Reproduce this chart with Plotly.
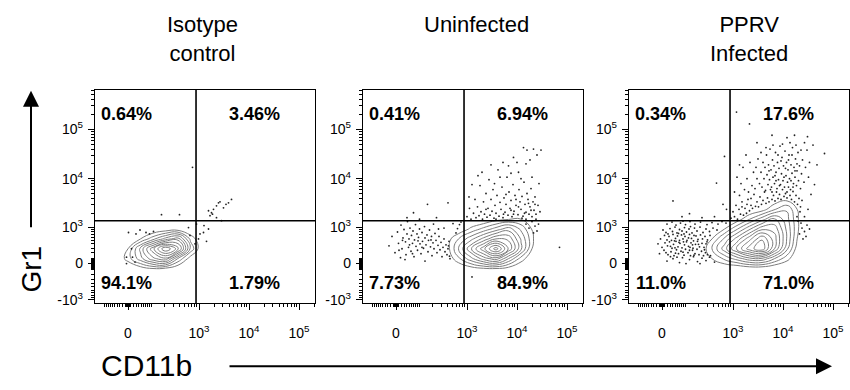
import numpy as np
import plotly.graph_objects as go

# ---------------------------------------------------------------------------
# Biexponential (arcsinh) display scale, one display unit ~ one decade
# ---------------------------------------------------------------------------
LN10 = np.log(10.0)
CD11B_SCALE = 76.0     # linear-region width for CD11b
GR1_SCALE = 382.0      # linear-region width for Gr1


def biex_cd11b(v):
    return np.arcsinh(np.asarray(v, dtype=float) / CD11B_SCALE) / LN10


def biex_gr1(v):
    return np.arcsinh(np.asarray(v, dtype=float) / GR1_SCALE) / LN10


# Sample names and quadrant statistics (UL, UR, LL, LR)
samples = ["Isotype<br>control", "Uninfected", "PPRV<br>Infected"]
quadrant_pct = [
    ["0.64%", "3.46%", "94.1%", "1.79%"],
    ["0.41%", "6.94%", "7.73%", "84.9%"],
    ["0.34%", "17.6%", "11.0%", "71.0%"],
]

# Quadrant gates (fluorescence intensity)
cd11b_gate = 870
gr1_gate = 1380

# Axis ticks (fluorescence intensity)
cd11b_major = [0, 1e3, 1e4, 1e5]
cd11b_major_text = ["0", "10<sup>3</sup>", "10<sup>4</sup>", "10<sup>5</sup>"]
gr1_major = [-1e3, 0, 1e3, 1e4, 1e5]
gr1_major_text = ["-10<sup>3</sup>", "0", "10<sup>3</sup>", "10<sup>4</sup>", "10<sup>5</sup>"]

# Display ranges (biex display units)
cd11b_range = [-0.66, 3.74]
gr1_range = [-0.80, 3.52]

# ---------------------------------------------------------------------------
# Outlier events outside the outermost contour, (CD11b, Gr1) in display units
# ---------------------------------------------------------------------------
isotype_events = [
    (0.01, 0.63), (0.16, 0.6), (0.24, 0.68), (0.36, 0.63), (0.43, 0.6), (0.07, 0.3),
    (-0.03, 0.13), (0.09, 0.13), (0.14, 0.03), (0.67, 0.99), (1.03, 0.99), (1.29, 1.95),
    (1.21, 0.73), (1.37, 0.8), (1.44, 0.6), (1.52, 0.77), (1.41, 0.5), (1.57, 0.45),
    (1.51, 0.63), (1.61, 0.7), (1.61, 1.07), (1.67, 1.03), (1.71, 1.1), (1.77, 1.17),
    (1.81, 1.23), (1.84, 1.25), (1.91, 1.13), (1.96, 1.2), (2.07, 1.3), (2.01, 1.23),
    (1.87, 0.87), (1.77, 0.93), (1.69, 1.0), (1.64, 0.97), (-0.03, 0.0), (0.51, 0.65),
    (1.24, 0.57), (1.34, 0.4),
]

uninfected_events = [
    (-0.14, 0.36), (-0.08, 0.55), (-0.02, 0.22), (0.03, 0.64), (0.05, 0.41), (0.09, 0.12),
    (0.1, 0.78), (0.12, 0.3), (0.14, 0.52), (0.16, 0.69), (0.19, 0.44), (0.2, 0.18),
    (0.22, 0.6), (0.23, 0.85), (0.25, 0.33), (0.26, 0.5), (0.28, 0.72), (0.3, 0.25),
    (0.31, 0.57), (0.33, 0.41), (0.34, 0.66), (0.36, 0.14), (0.37, 0.48), (0.39, 0.79),
    (0.4, 0.35), (0.42, 0.6), (0.43, 0.27), (0.45, 0.53), (0.47, 0.7), (0.48, 0.4),
    (0.5, 0.2), (0.52, 0.63), (0.53, 0.45), (0.55, 0.31), (0.57, 0.75), (0.58, 0.52),
    (0.6, 0.38), (0.62, 0.58), (0.64, 0.24), (0.65, 0.47), (0.67, 0.68), (0.69, 0.34),
    (0.71, 0.55), (0.72, 0.16), (0.74, 0.42), (0.76, 0.3), (0.78, 0.61), (0.8, 0.47),
    (0.82, 0.22), (0.84, 0.37), (0.86, 0.55), (0.88, 0.28), (0.9, 0.43), (0.92, 0.14),
    (0.94, 0.33), (0.96, 0.5), (0.98, 0.24), (1.0, 0.38), (1.02, 0.18), (1.04, 0.3),
    (1.06, 0.45), (1.08, 0.1), (1.05, 0.36), (1.07, 0.15), (1.2, 0.62), (1.23, 0.71),
    (1.27, 0.79), (1.3, 0.84), (0.35, 1.03), (0.63, 1.2), (1.04, 1.23), (0.22, 0.93),
    (0.47, 0.9), (0.81, 0.93), (1.14, 0.81), (0.06, 0.27), (0.18, 0.08), (0.58, 0.05),
    (0.75, 0.8), (0.96, 0.72), (0.27, 0.38), (0.44, 0.46), (0.13, 0.47), (0.7, 0.48),
    (0.52, 0.33), (0.33, 0.2), (0.85, 0.7),
    (1.42, 0.95), (1.47, 1.12), (1.5, 0.9), (1.55, 1.02), (1.58, 1.3), (1.6, 0.93),
    (1.63, 1.15), (1.66, 0.97), (1.68, 1.58), (1.7, 1.05), (1.73, 0.9), (1.75, 1.25),
    (1.77, 1.0), (1.8, 1.42), (1.82, 0.94), (1.84, 1.12), (1.86, 1.7), (1.88, 0.98),
    (1.9, 1.3), (1.92, 1.06), (1.94, 1.5), (1.96, 0.92), (1.98, 1.18), (2.0, 1.02),
    (2.02, 1.38), (2.04, 1.9), (2.06, 0.96), (2.08, 1.24), (2.1, 1.1), (2.12, 1.55),
    (2.14, 0.93), (2.16, 1.33), (2.18, 1.04), (2.2, 1.2), (2.22, 1.75), (2.24, 0.98),
    (2.26, 1.45), (2.28, 1.12), (2.3, 1.28), (2.32, 0.95), (2.34, 1.6), (2.36, 1.06),
    (2.38, 1.38), (2.4, 1.18), (2.42, 2.05), (2.44, 0.99), (2.46, 1.5), (2.48, 1.25),
    (2.5, 1.1), (2.52, 1.36), (2.54, 0.96), (2.56, 1.65), (2.58, 1.2), (2.6, 1.04),
    (2.62, 1.42), (2.64, 1.3), (2.66, 1.0), (2.68, 1.15), (2.7, 1.52), (2.72, 0.95),
    (2.74, 1.25), (2.76, 1.08), (2.78, 1.35), (2.8, 1.0), (2.84, 1.18), (2.88, 1.05),
    (2.55, 2.35), (2.62, 2.3), (2.75, 2.32), (2.82, 2.2), (2.9, 2.3), (2.68, 2.1),
    (2.6, 2.02), (2.35, 2.15), (2.25, 1.98), (2.14, 2.05), (1.9, 2.0), (1.72, 1.85),
    (1.64, 1.78), (2.45, 1.85), (2.3, 1.83), (2.5, 1.72), (2.72, 1.75), (2.86, 1.62),
    (1.97, 1.62), (2.08, 1.75), (2.2, 1.4), (2.4, 1.3), (2.57, 1.02), (2.45, 1.15),
    (2.35, 1.0), (2.15, 1.0), (2.65, 1.22), (2.7, 1.08), (2.78, 1.2), (2.52, 0.92),
    (2.6, 0.9), (2.0, 0.9), (1.8, 1.1), (2.3, 1.08), (1.52, 1.6), (1.46, 1.35),
    (2.6, 0.8), (2.66, 0.72), (2.72, 0.85), (2.78, 0.76), (2.82, 0.66), (2.75, 0.62),
    (2.8, 0.9), (2.85, 0.8), (3.27, 0.33), (1.52, -0.27),
]

infected_events = [
    # lower-left population
    (0.1, 0.05), (0.22, 0.1), (0.35, 0.02), (0.41, 0.12), (0.55, 0.08), (0.63, 0.14),
    (0.71, 0.04), (0.8, 0.11), (0.88, 0.06), (0.95, 0.13), (1.05, 0.03), (0.3, 0.13),
    (0.48, 0.0), (0.17, 0.14), (0.76, 0.0),
    (-0.05, 0.2), (0.04, 0.27), (0.12, 0.18), (0.18, 0.24), (0.24, 0.16), (0.29, 0.28),
    (0.33, 0.2), (0.38, 0.25), (0.44, 0.17), (0.47, 0.29), (0.52, 0.22), (0.57, 0.16),
    (0.61, 0.27), (0.66, 0.2), (0.7, 0.29), (0.74, 0.18), (0.79, 0.25), (0.83, 0.16),
    (0.87, 0.22), (0.91, 0.18), (0.97, 0.16), (0.08, 0.22), (0.27, 0.21), (0.42, 0.23),
    (0.55, 0.27), (0.64, 0.17), (0.85, 0.28),
    (-0.08, 0.4), (0.0, 0.33), (0.06, 0.42), (0.11, 0.36), (0.15, 0.44), (0.2, 0.31),
    (0.23, 0.39), (0.28, 0.45), (0.32, 0.34), (0.36, 0.41), (0.4, 0.32), (0.45, 0.38),
    (0.49, 0.44), (0.53, 0.35), (0.58, 0.42), (0.62, 0.31), (0.67, 0.39), (0.71, 0.45),
    (0.75, 0.34), (0.8, 0.41), (0.84, 0.33), (0.88, 0.4), (0.17, 0.35), (0.34, 0.43),
    (0.56, 0.33), (0.73, 0.39), (0.26, 0.32), (0.43, 0.44), (0.61, 0.38), (0.9, 0.44),
    (-0.03, 0.5), (0.05, 0.57), (0.1, 0.48), (0.14, 0.55), (0.19, 0.47), (0.22, 0.59),
    (0.27, 0.51), (0.31, 0.56), (0.35, 0.47), (0.39, 0.58), (0.42, 0.5), (0.46, 0.55),
    (0.5, 0.47), (0.55, 0.59), (0.59, 0.51), (0.63, 0.46), (0.68, 0.56), (0.72, 0.49),
    (0.77, 0.58), (0.81, 0.5), (0.86, 0.55), (0.91, 0.48), (0.96, 0.57), (0.25, 0.46),
    (0.44, 0.6), (0.64, 0.57), (0.12, 0.6), (0.53, 0.52),
    (0.02, 0.68), (0.08, 0.63), (0.16, 0.71), (0.21, 0.65), (0.26, 0.74), (0.3, 0.62),
    (0.35, 0.69), (0.4, 0.66), (0.45, 0.73), (0.49, 0.64), (0.54, 0.7), (0.6, 0.62),
    (0.65, 0.72), (0.7, 0.66), (0.76, 0.74), (0.82, 0.63), (0.88, 0.7), (0.95, 0.65),
    (1.02, 0.72), (1.1, 0.68), (0.33, 0.61), (0.57, 0.75),
    (0.1, 0.8), (0.2, 0.84), (0.28, 0.78), (0.37, 0.82), (0.47, 0.79), (0.56, 0.85),
    (0.66, 0.8), (0.77, 0.84), (0.9, 0.79), (1.0, 0.83), (1.12, 0.8), (1.2, 0.85),
    (1.28, 0.82), (0.42, 0.86),
    # upper-left
    (0.22, 1.27), (0.55, 1.01), (1.09, 1.63), (1.25, 2.17), (1.22, 1.2), (1.29, 1.1),
    (0.4, 0.95), (0.8, 0.93), (1.05, 0.95),
    # upper-right, just above the main population
    (1.38, 0.92), (1.42, 1.05), (1.45, 0.95), (1.48, 1.18), (1.51, 0.9), (1.54, 1.1),
    (1.57, 1.0), (1.6, 1.25), (1.63, 0.98), (1.66, 1.12), (1.69, 1.02), (1.72, 1.3),
    (1.75, 1.07), (1.78, 1.18), (1.81, 1.12), (1.84, 1.4), (1.87, 1.16), (1.9, 1.25),
    (1.93, 1.15), (1.96, 1.35), (1.99, 1.2), (2.02, 1.28), (2.05, 1.45), (2.08, 1.22),
    (2.11, 1.33), (2.14, 1.25), (2.17, 1.5), (2.2, 1.3), (2.23, 1.38), (2.26, 1.27),
    (2.29, 1.45), (2.32, 1.32), (2.35, 1.4), (2.38, 1.3), (2.41, 1.5), (2.44, 1.36),
    (2.47, 1.42), (2.5, 1.33), (2.53, 1.55), (2.56, 1.38), (2.59, 1.3), (2.62, 1.46),
    (2.65, 1.25), (2.68, 1.38), (2.71, 1.2), (2.74, 1.32), (2.77, 1.15), (2.8, 1.28),
    # upper-right, Gr1-high cloud
    (1.95, 1.62), (1.98, 1.85), (2.0, 1.55), (2.02, 2.05), (2.04, 1.72), (2.06, 1.95),
    (2.07, 1.48), (2.09, 2.2), (2.1, 1.8), (2.12, 1.6), (2.13, 2.0), (2.15, 1.7),
    (2.16, 2.32), (2.18, 1.9), (2.19, 1.55), (2.21, 2.1), (2.22, 1.75), (2.24, 1.98),
    (2.25, 1.62), (2.27, 2.25), (2.28, 1.85), (2.3, 1.52), (2.31, 2.05), (2.33, 1.7),
    (2.34, 1.93), (2.36, 2.38), (2.37, 1.6), (2.39, 1.82), (2.4, 2.15), (2.42, 1.68),
    (2.43, 1.98), (2.45, 1.55), (2.46, 2.28), (2.48, 1.78), (2.49, 2.05), (2.51, 1.65),
    (2.52, 1.9), (2.54, 2.2), (2.55, 1.72), (2.57, 1.5), (2.58, 2.0), (2.6, 1.83),
    (2.61, 2.35), (2.63, 1.62), (2.64, 1.95), (2.66, 1.75), (2.67, 2.12), (2.69, 1.58),
    (2.7, 1.88), (2.72, 2.25), (2.73, 1.68), (2.75, 1.98), (2.77, 1.52), (2.79, 1.82),
    (2.81, 2.1), (2.84, 1.65), (2.87, 1.95), (2.9, 2.3), (2.93, 1.75),
    (2.2, 1.45), (2.35, 1.58), (2.5, 1.45), (2.62, 1.55), (2.44, 1.75), (2.28, 1.68),
    (2.58, 1.68), (2.66, 1.88), (2.38, 2.08), (2.53, 2.1), (2.26, 1.78), (2.14, 1.88),
    (2.47, 1.93), (2.7, 2.02), (2.32, 2.2), (2.6, 2.2), (2.41, 2.42), (2.56, 2.45),
    (2.68, 2.4), (2.22, 2.4), (2.08, 2.35), (1.98, 2.25), (2.78, 2.3), (2.85, 2.45),
    (2.5, 2.55),
    (1.45, 1.45), (1.5, 1.75), (1.55, 1.38), (1.58, 1.62), (1.62, 1.95), (1.65, 1.5),
    (1.7, 1.72), (1.73, 1.45), (1.76, 2.05), (1.8, 1.58), (1.83, 1.85), (1.86, 1.52),
    (1.9, 1.72), (1.92, 2.12), (1.88, 1.95), (1.68, 2.2), (1.55, 2.0), (1.78, 1.32),
    (1.6, 1.15), (1.7, 1.2),
    (1.49, 3.07), (1.75, 2.83), (3.25, 2.23), (2.91, 2.57), (3.02, 2.4), (2.95, 2.05),
    (3.05, 1.6), (2.98, 1.4), (2.2, 2.6), (2.65, 2.6), (1.9, 2.45), (3.1, 2.0),
    # lower-right, beside the main population
    (2.75, 0.6), (2.8, 0.72), (2.85, 0.65), (2.78, 0.82), (2.9, 0.78), (2.72, 0.86),
    (2.88, 0.55), (2.95, 0.7), (2.82, 0.5), (2.7, 0.95), (2.76, 1.05), (2.85, 0.95),
    (2.92, 1.1),
]

# ---------------------------------------------------------------------------
# Relative event density of the main population (display-unit grid)
# ---------------------------------------------------------------------------
isotype_grid_x = [-0.25, 0.0, 0.25, 0.5, 0.75, 1.0, 1.25, 1.5]
isotype_grid_y = [-0.3, -0.1, 0.1, 0.3, 0.5, 0.7, 0.9]
isotype_density = [
    [0, 0, 0, 0, 0, 0, 0, 0],
    [0, 0, 0.5, 1.0, 0.8, 0.2, 0, 0],
    [0, 1.4, 3.2, 5.0, 5.9, 2.6, 0.5, 0],
    [0, 1.0, 3.8, 6.7, 9.5, 7.4, 2.5, 0],
    [0, 0, 1.0, 2.4, 3.9, 4.9, 1.6, 0],
    [0, 0, 0, 0, 0.3, 0.4, 0, 0],
    [0, 0, 0, 0, 0, 0, 0, 0],
]

uninfected_grid_x = [0.75, 1.0, 1.25, 1.5, 1.75, 2.0, 2.25, 2.5, 2.75, 3.0]
uninfected_grid_y = [-0.3, -0.1, 0.1, 0.3, 0.5, 0.7, 0.9, 1.1]
uninfected_density = [
    [0, 0, 0, 0, 0, 0, 0, 0, 0, 0],
    [0, 0, 0, 0.5, 0.9, 1.0, 0.6, 0, 0, 0],
    [0, 0, 1.7, 3.4, 5.0, 6.0, 3.7, 1.5, 0, 0],
    [0, 0.3, 2.8, 5.4, 7.9, 10.5, 7.2, 3.9, 0.6, 0],
    [0, 0.4, 1.9, 3.4, 4.9, 6.4, 6.2, 3.6, 1.0, 0],
    [0, 0, 0.2, 1.2, 2.2, 3.2, 4.2, 2.6, 0.7, 0],
    [0, 0, 0, 0, 0, 0.6, 0.9, 1.0, 0.3, 0],
    [0, 0, 0, 0, 0, 0, 0, 0, 0, 0],
]

infected_grid_x = [0.75, 1.0, 1.25, 1.5, 1.75, 2.0, 2.25, 2.5, 2.75, 3.0]
infected_grid_y = [-0.3, -0.1, 0.1, 0.3, 0.5, 0.7, 0.9, 1.1, 1.3, 1.5]
infected_density = [
    [0, 0, 0, 0, 0, 0, 0, 0, 0, 0],
    [0, 0, 0, 0, 0.3, 0.3, 0, 0, 0, 0],
    [0, 1.0, 2.1, 3.2, 4.3, 4.4, 2.8, 1.3, 0, 0],
    [0, 1.9, 4.2, 6.5, 8.7, 9.8, 6.4, 3.0, 0, 0],
    [0, 1.0, 3.0, 5.0, 7.0, 9.0, 6.8, 3.6, 0.4, 0],
    [0, 0, 1.0, 2.7, 4.45, 6.2, 6.1, 3.45, 0.8, 0],
    [0, 0, 0, 0.43, 1.86, 3.3, 4.7, 3.1, 0.8, 0],
    [0, 0, 0, 0, 0, 0.5, 1.8, 2.7, 0.6, 0],
    [0, 0, 0, 0, 0, 0, 0.3, 0.7, 0.3, 0],
    [0, 0, 0, 0, 0, 0, 0, 0, 0, 0],
]

panels = [
    (isotype_events, isotype_grid_x, isotype_grid_y, isotype_density, 0.85),
    (uninfected_events, uninfected_grid_x, uninfected_grid_y, uninfected_density, 0.9),
    (infected_events, infected_grid_x, infected_grid_y, infected_density, 0.9),
]

# ---------------------------------------------------------------------------
# Layout geometry (paper fractions)
# ---------------------------------------------------------------------------
W, H = 850, 390
x_domains = [[95 / W, 315 / W], [363 / W, 583 / W], [629 / W, 849 / W]]
y_domain = [1 - 307 / H, 1 - 91 / H]

FONT = "Liberation Sans, Arial, Helvetica, sans-serif"


def minor_ticks(lo, hi, to_display):
    vals = []
    for n in range(0, 6):
        for k in range(1, 10):
            v = k * 10 ** n
            for s in (v, -v):
                d = float(to_display(s))
                if lo <= d <= hi:
                    vals.append(d)
    return vals


fig = go.Figure()

for i, (events, gx, gy, dens, step) in enumerate(panels):
    xa = "x" if i == 0 else f"x{i + 1}"
    ya = "y" if i == 0 else f"y{i + 1}"

    fig.add_trace(go.Contour(
        x=gx, y=gy, z=dens,
        xaxis=xa, yaxis=ya,
        contours=dict(start=1, end=10, size=step, coloring="none"),
        line=dict(color="#7c7c7c", width=1, smoothing=1.3),
        showscale=False, hoverinfo="skip",
    ))

    ex = [p[0] for p in events]
    ey = [p[1] for p in events]
    fig.add_trace(go.Scatter(
        x=ex, y=ey, xaxis=xa, yaxis=ya, mode="markers",
        marker=dict(size=1.8, color="#222222", line=dict(width=0)),
        hoverinfo="skip", showlegend=False,
    ))

    axis_common = dict(
        showline=True, linecolor="black", linewidth=1.3, mirror=True,
        ticks="outside", ticklen=6, tickwidth=1, tickcolor="black",
        showgrid=False, zeroline=False, fixedrange=True,
        tickfont=dict(family=FONT, size=14, color="black"),
    )

    xkey = "xaxis" if i == 0 else f"xaxis{i + 1}"
    ykey = "yaxis" if i == 0 else f"yaxis{i + 1}"

    fig.update_layout({
        xkey: dict(
            axis_common, domain=x_domains[i], anchor=ya, range=cd11b_range,
            tickmode="array",
            tickvals=[float(biex_cd11b(v)) for v in cd11b_major],
            ticktext=cd11b_major_text, ticklabelstandoff=11,
            minor=dict(tickvals=minor_ticks(*cd11b_range, biex_cd11b),
                       ticks="outside", ticklen=3, tickcolor="black", tickwidth=1),
        ),
        ykey: dict(
            axis_common, domain=y_domain, anchor=xa, range=gr1_range,
            tickmode="array",
            tickvals=[float(biex_gr1(v)) for v in gr1_major],
            ticktext=gr1_major_text, ticklabelstandoff=2,
            minor=dict(tickvals=minor_ticks(*gr1_range, biex_gr1),
                       ticks="outside", ticklen=3, tickcolor="black", tickwidth=1),
        ),
    })

    # Quadrant gates
    gx_d = float(biex_cd11b(cd11b_gate))
    gy_d = float(biex_gr1(gr1_gate))
    fig.add_shape(type="line", xref=xa, yref=f"{ya} domain",
                  x0=gx_d, x1=gx_d, y0=0, y1=1,
                  line=dict(color="black", width=1.6))
    fig.add_shape(type="line", xref=f"{xa} domain", yref=ya,
                  x0=0, x1=1, y0=gy_d, y1=gy_d,
                  line=dict(color="black", width=1.6))

    # Quadrant percentages: UL, UR, LL, LR
    spots = [(0.144, 0.889), (0.727, 0.889), (0.144, 0.094), (0.727, 0.094)]
    for (px, py), label in zip(spots, quadrant_pct[i]):
        fig.add_annotation(
            xref=f"{xa} domain", yref=f"{ya} domain", x=px, y=py,
            text=f"<b>{label}</b>", showarrow=False,
            xanchor="center", yanchor="middle",
            font=dict(family=FONT, size=18, color="black"),
        )

# Sample titles above each plot (first line top-aligned)
title_centres = [202, 476, 749]
for cx, name in zip(title_centres, samples):
    fig.add_annotation(
        xref="paper", yref="paper", x=cx / W, y=1 - 10 / H,
        text=name, showarrow=False, xanchor="center", yanchor="top",
        align="center",
        font=dict(family=FONT, size=22, color="black"),
    )

# Gr1 axis title with upward arrow
fig.add_annotation(
    xref="paper", yref="paper", x=32 / W, y=1 - 272 / H, text="Gr1",
    textangle=-90, showarrow=False, xanchor="center", yanchor="middle",
    font=dict(family=FONT, size=28, color="black"),
)
fig.add_annotation(
    xref="paper", yref="paper", x=31 / W, y=1 - 92 / H, text="",
    showarrow=True, ax=0, ay=138, arrowhead=2, arrowsize=1.6,
    arrowwidth=2, arrowcolor="black", standoff=0,
)

# CD11b axis title with rightward arrow
fig.add_annotation(
    xref="paper", yref="paper", x=146 / W, y=1 - 370 / H, text="CD11b",
    showarrow=False, xanchor="center", yanchor="middle",
    font=dict(family=FONT, size=30, color="black"),
)
fig.add_annotation(
    xref="paper", yref="paper", x=832 / W, y=1 - 371 / H, text="",
    showarrow=True, ax=-604, ay=0, arrowhead=2, arrowsize=1.6,
    arrowwidth=2, arrowcolor="black", standoff=0,
)

fig.update_layout(
    width=W, height=H, margin=dict(l=0, r=0, t=0, b=0),
    paper_bgcolor="white", plot_bgcolor="white", showlegend=False,
)

fig.write_html("out.html")
